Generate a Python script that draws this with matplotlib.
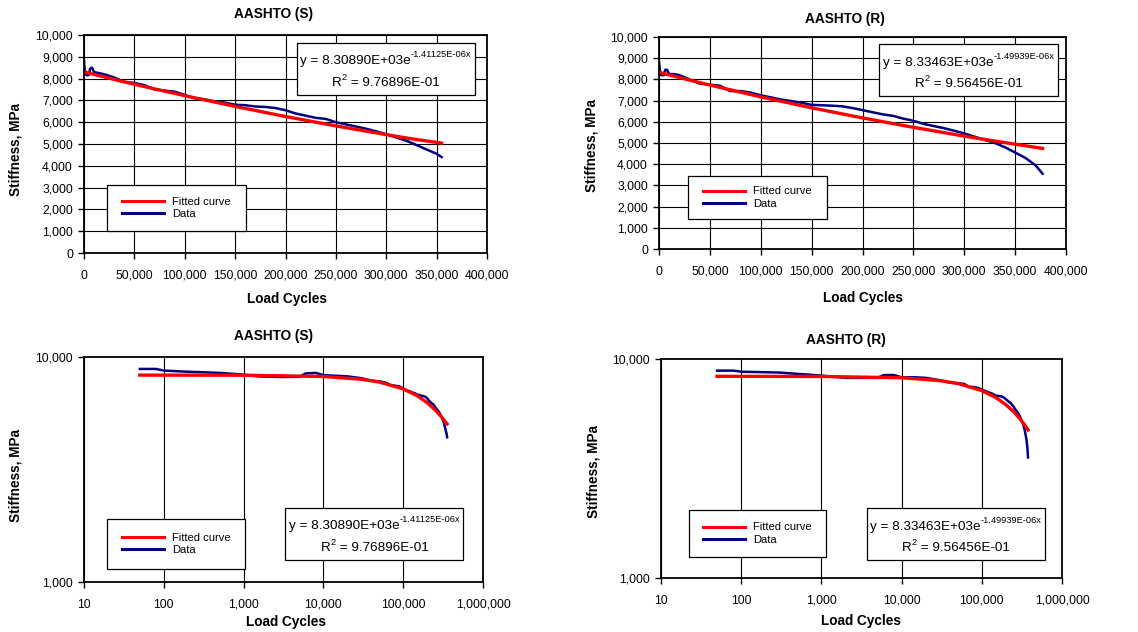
import matplotlib.pyplot as plt
from matplotlib.patches import Rectangle
from matplotlib.ticker import FuncFormatter, NullLocator

# values
s_cycles = [50, 80, 100, 200, 500, 1000, 1500, 3000, 5000, 6000, 8000, 9000, 10000, 15000,
            20000, 30000, 40000, 50000, 60000, 70000, 80000, 90000, 100000, 110000, 120000,
            130000, 140000, 150000, 160000, 170000, 180000, 190000, 200000, 210000, 220000,
            230000, 240000, 250000, 260000, 270000, 280000, 290000, 300000, 310000, 320000,
            330000, 340000, 350000, 355000]
s_stiffness = [8850, 8850, 8700, 8600, 8500, 8350, 8200, 8150, 8170, 8450, 8500, 8400, 8300, 8250,
               8200, 8050, 7850, 7800, 7700, 7500, 7450, 7400, 7250, 7100, 7050,
               6950, 6900, 6800, 6780, 6720, 6700, 6650, 6550, 6400, 6300,
               6200, 6150, 6000, 5900, 5800, 5700, 5580, 5450, 5300, 5150,
               4950, 4750, 4550, 4400]
s_fit_cycles = [50, 1000, 10000, 30000, 50000, 100000, 150000, 200000, 250000, 300000, 325000, 355000]
s_fit_stiffness = [8309, 8297, 8193, 7960, 7740, 7215, 6725, 6260, 5830, 5430, 5240, 5040]

r_cycles = [50, 80, 100, 300, 1000, 2000, 5000, 6000, 8000, 10000, 15000, 20000, 30000,
            40000, 50000, 60000, 70000, 80000, 90000, 100000, 110000, 120000, 130000,
            140000, 150000, 160000, 170000, 180000, 190000, 200000, 210000, 220000, 230000,
            240000, 250000, 260000, 270000, 280000, 290000, 300000, 310000, 320000, 330000,
            340000, 350000, 360000, 370000, 377000]
r_stiffness = [8850, 8850, 8750, 8670, 8400, 8200, 8200, 8450, 8450, 8250, 8250, 8200, 8000,
               7800, 7750, 7700, 7450, 7450, 7380, 7250, 7150, 7050, 6980,
               6900, 6800, 6780, 6760, 6730, 6650, 6550, 6450, 6350, 6280,
               6150, 6050, 5900, 5800, 5700, 5580, 5450, 5300, 5150, 5000,
               4800, 4550, 4300, 3950, 3550]
r_fit_cycles = [50, 1000, 10000, 30000, 50000, 100000, 150000, 200000, 250000, 300000, 325000, 350000, 377000]
r_fit_stiffness = [8334, 8322, 8211, 7968, 7734, 7174, 6660, 6183, 5739, 5325, 5130, 4943, 4745]

s_eq = ('y = 8.30890E+03e', '-1.41125E-06x')
s_r2 = '9.76896E-01'
r_eq = ('y = 8.33463E+03e', '-1.49939E-06x')
r_r2 = '9.56456E-01'

plt.rcParams['font.family'] = ['Liberation Sans', 'DejaVu Sans']

W, H = 1138, 632
fig = plt.figure(figsize=(W / 100, H / 100), dpi=100)
fig.patch.set_facecolor('white')

pending = []


def px_axes(l, t, r, b):
    return fig.add_axes([l / W, 1 - b / H, (r - l) / W, (b - t) / H])


comma = FuncFormatter(lambda v, p: '{:,.0f}'.format(v))


def style(ax, log):
    for sp in ax.spines.values():
        sp.set_linewidth(1.3)
        sp.set_color('black')
    ax.tick_params(direction='out', length=4, width=1, labelsize=8.7, colors='black')
    ax.tick_params(axis='x', pad=8)
    ax.tick_params(axis='y', pad=4)
    if log:
        ax.set_xscale('log')
        ax.set_yscale('log')
        ax.set_xlim(10, 1e6)
        ax.set_ylim(1000, 10000)
        ax.set_xticks([10, 100, 1000, 10000, 100000, 1000000])
        ax.set_yticks([1000, 10000])
        ax.xaxis.set_minor_locator(NullLocator())
        ax.yaxis.set_minor_locator(NullLocator())
        ax.grid(True, axis='x', color='black', linewidth=0.8)
    else:
        ax.set_xlim(0, 400000)
        ax.set_ylim(0, 10000)
        ax.set_xticks(range(0, 400001, 50000))
        ax.set_yticks(range(0, 10001, 1000))
        ax.grid(True, color='black', linewidth=0.8)
    ax.xaxis.set_major_formatter(comma)
    ax.yaxis.set_major_formatter(comma)
    ax.set_axisbelow(True)


def rich_line(ax, xc, yc, segments):
    # segments: (text, fontsize, rise in px); laid out after a first draw
    texts = [(fig.text(0, 0, s, fontsize=fs, ha='left', va='baseline', zorder=7), rise)
             for s, fs, rise in segments]
    pending.append((ax, xc, yc, texts))


def draw(ax, cyc, stiff, fcyc, fstiff, eq, r2, leg_box, eq_box):
    l2, = ax.plot(cyc, stiff, color='#000080', linewidth=1.8, label='Data')
    l1, = ax.plot(fcyc, fstiff, color='#ff0000', linewidth=2.4, label='Fitted curve')
    # legend box
    x0, y0, x1, y1 = leg_box
    ax.add_patch(Rectangle((x0, y0), x1 - x0, y1 - y0, transform=ax.transAxes,
                           facecolor='white', edgecolor='black', linewidth=0.9, zorder=5))
    leg = ax.legend([l1, l2], ['Fitted curve', 'Data'], loc='center',
                    bbox_to_anchor=(x0, y0, x1 - x0, y1 - y0), frameon=False,
                    fontsize=8, handlelength=3.8, handletextpad=0.7, labelspacing=0.2)
    leg.set_zorder(6)
    for ln in leg.get_lines():
        ln.set_linewidth(2.2)
    # equation box
    x0, y0, x1, y1 = eq_box
    ax.add_patch(Rectangle((x0, y0), x1 - x0, y1 - y0, transform=ax.transAxes,
                           facecolor='white', edgecolor='black', linewidth=0.9, zorder=5))
    h = y1 - y0
    xc = (x0 + x1) / 2
    rich_line(ax, xc, y1 - 0.33 * h, [(eq[0], 9.7, 0), (eq[1], 6.7, 7)])
    rich_line(ax, xc, y1 - 0.74 * h, [('R', 9.7, 0), ('2', 6.7, 6), (' = ' + r2, 9.7, 0)])


def label(x, y, s, rot=0):
    fig.text(x / W, 1 - y / H, s, ha='center', va='center', fontsize=9.8,
             fontweight='bold', rotation=rot)


ax1 = px_axes(84, 35, 487, 253)
style(ax1, False)
draw(ax1, s_cycles, s_stiffness, s_fit_cycles, s_fit_stiffness, s_eq, s_r2,
     (0.057, 0.101, 0.402, 0.312), (0.528, 0.725, 0.970, 0.965))

ax2 = px_axes(659, 37, 1066, 249)
style(ax2, False)
draw(ax2, r_cycles, r_stiffness, r_fit_cycles, r_fit_stiffness, r_eq, r_r2,
     (0.072, 0.1415, 0.412, 0.344), (0.541, 0.722, 0.980, 0.967))

ax3 = px_axes(84, 357, 483, 582)
style(ax3, True)
draw(ax3, s_cycles, s_stiffness, s_fit_cycles, s_fit_stiffness, s_eq, s_r2,
     (0.058, 0.058, 0.403, 0.279), (0.505, 0.098, 0.951, 0.330))

ax4 = px_axes(661, 359, 1062, 578)
style(ax4, True)
draw(ax4, r_cycles, r_stiffness, r_fit_cycles, r_fit_stiffness, r_eq, r_r2,
     (0.0706, 0.097, 0.411, 0.309), (0.513, 0.082, 0.958, 0.320))

# titles and axis labels
label(273, 14, 'AASHTO (S)')
label(845, 19, 'AASHTO (R)')
label(273, 336, 'AASHTO (S)')
label(846, 340, 'AASHTO (R)')
label(287, 299, 'Load Cycles')
label(863, 298, 'Load Cycles')
label(286, 622, 'Load Cycles')
label(861, 621, 'Load Cycles')
label(16, 150, 'Stiffness, MPa', 90)
label(592, 145, 'Stiffness, MPa', 90)
label(16, 476, 'Stiffness, MPa', 90)
label(593, 471, 'Stiffness, MPa', 90)

# place the equation pieces side by side, centred in their boxes
fig.canvas.draw()
rend = fig.canvas.get_renderer()
for ax, xc, yc, texts in pending:
    widths = [t.get_window_extent(rend).width for t, _ in texts]
    cx, cy = ax.transAxes.transform((xc, yc))
    x = cx - sum(widths) / 2
    base = cy - 4.5
    for (t, rise), w in zip(texts, widths):
        t.set_position((x / W, (base + rise) / H))
        x += w

fig.savefig('out.png', dpi=100, facecolor='white')
